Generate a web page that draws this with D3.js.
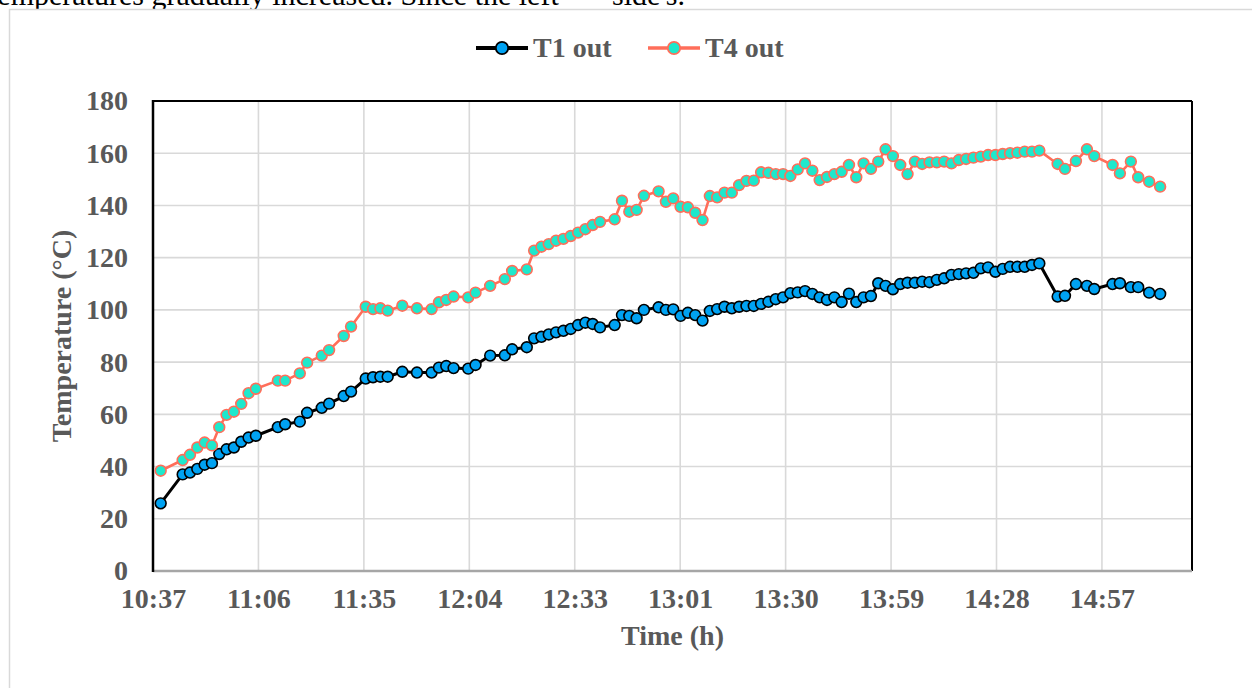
<!DOCTYPE html>
<html>
<head>
<meta charset="utf-8">
<script src="https://cdn.jsdelivr.net/npm/d3@7"></script>
<style>
  html, body { margin: 0; padding: 0; background: #ffffff; }
  svg { display: block; }
  text { font-family: "Liberation Serif", "Times New Roman", serif; }
</style>
</head>
<body>
<svg id="chart" width="1252" height="688"></svg>
<script>
// Sampling times (clock time, hh:mm)
const times = [
  "10:40","10:46","10:48","10:50","10:52","10:54","10:56","10:58","11:00","11:02",
  "11:04","11:06","11:12","11:14","11:18","11:20","11:24","11:26","11:30","11:32",
  "11:36","11:38","11:40","11:42","11:46","11:50","11:54","11:56","11:58","12:00",
  "12:04","12:06","12:10","12:14","12:16","12:20","12:22","12:24","12:26","12:28",
  "12:30","12:32","12:34","12:36","12:38","12:40","12:44","12:46","12:48","12:50",
  "12:52","12:56","12:58","13:00","13:02","13:04","13:06","13:08","13:10","13:12",
  "13:14","13:16","13:18","13:20","13:22","13:24","13:26","13:28","13:30","13:32",
  "13:34","13:36","13:38","13:40","13:42","13:44","13:46","13:48","13:50","13:52",
  "13:54","13:56","13:58","14:00","14:02","14:04","14:06","14:08","14:10","14:12",
  "14:14","14:16","14:18","14:20","14:22","14:24","14:26","14:28","14:30","14:32",
  "14:34","14:36","14:38","14:40","14:45","14:47","14:50","14:53","14:55","15:00",
  "15:02","15:05","15:07","15:10","15:13"
];

// Outlet temperatures (°C)
const t1Out = [
  25.9, 37.0, 37.7, 39.1, 40.7, 41.3, 44.8, 46.6, 47.3, 49.5,
  51.1, 51.8, 55.1, 56.2, 57.2, 60.6, 62.5, 64.1, 67.0, 68.7,
  73.7, 74.2, 74.4, 74.4, 76.3, 76.0, 76.0, 77.9, 78.5, 77.7,
  77.5, 78.9, 82.5, 82.6, 84.9, 85.7, 89.1, 89.7, 90.6, 91.4,
  92.0, 92.7, 94.2, 95.1, 94.6, 93.3, 94.2, 98.0, 97.7, 96.8,
  100.0, 101.0, 100.0, 100.2, 97.7, 98.9, 98.0, 95.9, 99.6, 100.3,
  101.2, 100.6, 101.2, 101.5, 101.5, 102.3, 103.1, 104.1, 104.8, 106.4,
  106.7, 107.2, 106.1, 104.8, 103.8, 104.8, 103.0, 106.2, 103.0, 104.8,
  105.3, 110.2, 109.2, 107.9, 109.9, 110.4, 110.4, 110.8, 110.6, 111.5,
  112.1, 113.4, 113.7, 114.0, 114.2, 115.9, 116.3, 114.6, 115.7, 116.5,
  116.5, 116.5, 117.2, 117.8, 105.1, 105.4, 109.9, 109.2, 108.0, 109.9,
  110.2, 108.7, 108.7, 106.6, 106.1
];

const t4Out = [
  38.4, 42.5, 44.5, 47.3, 49.2, 48.1, 55.1, 59.8, 61.0, 64.0,
  68.1, 69.8, 72.9, 72.9, 75.7, 79.8, 82.5, 84.6, 90.0, 93.6,
  101.2, 100.3, 100.6, 99.7, 101.6, 100.6, 100.3, 102.9, 103.8, 105.1,
  104.8, 106.6, 109.2, 111.8, 114.9, 115.5, 122.7, 124.2, 125.2, 126.5,
  127.2, 128.3, 129.6, 130.9, 132.5, 133.7, 134.7, 141.8, 137.6, 138.3,
  143.7, 145.4, 141.4, 142.7, 139.5, 139.3, 137.2, 134.4, 143.6, 143.1,
  144.9, 144.9, 147.8, 149.4, 149.5, 152.7, 152.5, 152.0, 152.0, 151.3,
  153.8, 156.1, 153.3, 149.7, 150.9, 152.0, 152.9, 155.5, 150.8, 156.1,
  154.0, 156.8, 161.5, 158.9, 155.5, 152.0, 156.8, 155.9, 156.5, 156.5,
  156.8, 156.1, 157.4, 157.8, 158.3, 158.7, 159.3, 159.3, 159.7, 160.0,
  160.2, 160.6, 160.6, 161.0, 155.9, 154.0, 157.0, 161.5, 158.9, 155.5,
  152.3, 156.8, 150.8, 149.1, 147.2
];

// Axis ticks
const xTickLabels = ["10:37","11:06","11:35","12:04","12:33","13:01","13:30","13:59","14:28","14:57"];
const yTicks = [0, 20, 40, 60, 80, 100, 120, 140, 160, 180];

const seriesNames = ["T1 out", "T4 out"];

// ---- layout ----
const svg = d3.select("#chart");
const plot = { left: 153, right: 1192, top: 101, bottom: 571 };
const textColor = "#595959";
const fontSize = 28;

// time axis runs in minutes after midnight; major unit 0.02 day = 28.8 min
const axisStart = 10 * 60 + 37.9;
const axisEnd = 15 * 60 + 21.7;
const majorUnit = 28.8;
const toMinutes = s => { const [h, m] = s.split(":").map(Number); return h * 60 + m; };

const x = d3.scaleLinear().domain([axisStart, axisEnd]).range([plot.left, plot.right]);
const y = d3.scaleLinear().domain([0, 180]).range([plot.bottom, plot.top]);
const xTickValues = xTickLabels.map((_, i) => axisStart + i * majorUnit);

// running text of the page, whose last line sits just above the frame
svg.append("text")
  .attr("x", -11).attr("y", 5)
  .attr("font-size", 30)
  .attr("fill", "#000")
  .text("temperatures gradually increased. Since the left");
svg.append("text")
  .attr("x", 612).attr("y", 5)
  .attr("font-size", 30)
  .attr("fill", "#000")
  .text("side's.");

// chart frame
svg.append("rect")
  .attr("x", 9.5).attr("y", 9.5)
  .attr("width", 1260).attr("height", 700)
  .attr("fill", "#ffffff")
  .attr("stroke", "#d9d9d9").attr("stroke-width", 1.5);

// gridlines
const grid = svg.append("g");
grid.selectAll("line.h").data(yTicks.filter(v => v > 0 && v < 180)).join("line")
  .attr("x1", plot.left).attr("x2", plot.right)
  .attr("y1", d => y(d)).attr("y2", d => y(d))
  .attr("stroke", "#d9d9d9").attr("stroke-width", 1.6);
grid.selectAll("line.v").data(xTickValues.slice(1)).join("line")
  .attr("x1", d => x(d)).attr("x2", d => x(d))
  .attr("y1", plot.top).attr("y2", plot.bottom)
  .attr("stroke", "#d9d9d9").attr("stroke-width", 1.6);

// plot border (top, right, left in black; category axis in grey)
svg.append("line").attr("x1", plot.left).attr("x2", plot.right)
  .attr("y1", plot.top).attr("y2", plot.top)
  .attr("stroke", "#000").attr("stroke-width", 2);
svg.append("line").attr("x1", plot.right).attr("x2", plot.right)
  .attr("y1", plot.top).attr("y2", plot.bottom)
  .attr("stroke", "#000").attr("stroke-width", 2);
svg.append("line").attr("x1", plot.left).attr("x2", plot.right)
  .attr("y1", plot.bottom).attr("y2", plot.bottom)
  .attr("stroke", "#a6a6a6").attr("stroke-width", 2.5);
svg.append("line").attr("x1", plot.left).attr("x2", plot.left)
  .attr("y1", plot.top - 1).attr("y2", plot.bottom + 1)
  .attr("stroke", "#000").attr("stroke-width", 2.5);

// axes
const yAxis = svg.append("g")
  .attr("transform", `translate(${plot.left},0)`)
  .call(d3.axisLeft(y).tickValues(yTicks).tickSize(0).tickPadding(25));
const xAxis = svg.append("g")
  .attr("transform", `translate(0,${plot.bottom})`)
  .call(d3.axisBottom(x).tickValues(xTickValues).tickSize(0).tickPadding(17)
    .tickFormat((d, i) => xTickLabels[i]));
[yAxis, xAxis].forEach(g => {
  g.select(".domain").remove();
  g.selectAll("text")
    .attr("font-family", '"Liberation Serif", "Times New Roman", serif')
    .attr("font-size", fontSize)
    .attr("font-weight", "bold")
    .attr("fill", textColor);
});

// axis titles
svg.append("text")
  .attr("transform", `translate(71,${(plot.top + plot.bottom) / 2}) rotate(-90)`)
  .attr("text-anchor", "middle")
  .attr("font-size", fontSize).attr("font-weight", "bold").attr("fill", textColor)
  .text("Temperature (°C)");
svg.append("text")
  .attr("x", (plot.left + plot.right) / 2).attr("y", 645)
  .attr("text-anchor", "middle")
  .attr("font-size", fontSize).attr("font-weight", "bold").attr("fill", textColor)
  .text("Time (h)");

// series
const series = [
  { name: seriesNames[0], values: t1Out, line: "#000000", lineWidth: 3, fill: "#00a2f2", stroke: "#000000" },
  { name: seriesNames[1], values: t4Out, line: "#ff6e5a", lineWidth: 2.6, fill: "#1ee8cc", stroke: "#ff6e5a" }
];
const lineGen = d3.line().x(d => x(d.t)).y(d => y(d.v));

series.forEach(s => {
  const pts = times.map((t, i) => ({ t: toMinutes(t), v: s.values[i] }));
  const g = svg.append("g");
  g.append("path").datum(pts)
    .attr("d", lineGen)
    .attr("fill", "none")
    .attr("stroke", s.line).attr("stroke-width", s.lineWidth)
    .attr("stroke-linejoin", "round");
  g.selectAll("circle").data(pts).join("circle")
    .attr("cx", d => x(d.t)).attr("cy", d => y(d.v))
    .attr("r", 5.4)
    .attr("fill", s.fill)
    .attr("stroke", s.stroke).attr("stroke-width", 1.6);
});

// legend
const legendItems = [
  { s: series[0], x0: 476 },
  { s: series[1], x0: 648 }
];
legendItems.forEach(({ s, x0 }) => {
  const g = svg.append("g").attr("transform", `translate(${x0},48)`);
  g.append("line").attr("x1", 0).attr("x2", 52).attr("y1", 0).attr("y2", 0)
    .attr("stroke", s.line).attr("stroke-width", s.lineWidth + 1);
  g.append("circle").attr("cx", 26).attr("cy", 0).attr("r", 6.2)
    .attr("fill", s.fill).attr("stroke", s.stroke).attr("stroke-width", 1.8);
  g.append("text").attr("x", 57).attr("y", 9)
    .attr("font-size", fontSize).attr("font-weight", "bold").attr("fill", textColor)
    .text(s.name);
});
</script>
</body>
</html>
